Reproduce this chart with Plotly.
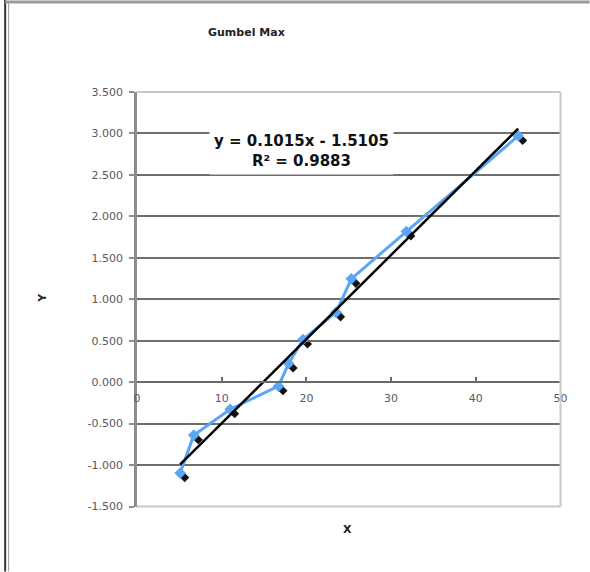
import plotly.graph_objects as go

# ---- data ----
x_vals = [5.1, 6.7, 11.0, 16.7, 17.9, 19.6, 23.5, 25.3, 31.8, 45.0]
y_vals = [-1.097, -0.640, -0.327, -0.049, 0.225, 0.514, 0.842, 1.246, 1.817, 2.970]
trend_slope = 0.1015
trend_intercept = -1.5105
trend_r2 = 0.9883
x_ticks = [0, 10, 20, 30, 40, 50]
y_ticks = [-1.5, -1.0, -0.5, 0.0, 0.5, 1.0, 1.5, 2.0, 2.5, 3.0, 3.5]
title_text = "Gumbel Max"
x_title = "X"
y_title = "Y"

# ---- layout geometry (pixels) ----
W, H = 590, 572
L, T = 137, 92
PW, PH = 424, 415
DX, DY = 4.5, 4.5          # marker shadow offset
tw, th = PW + DX, PH + DY
R = W - L - tw
B = H - T - th


def px(x):
    return (x - L) / tw


def py(y):
    return (T + th - y) / th


x_main_dom = [0, PW / tw]
x_sh_dom = [DX / tw, 1]
y_main_dom = [DY / th, 1]
y_sh_dom = [0, PH / th]
XR = [0, 50]
YR = [-1.5, 3.5]

FONT = "DejaVu Sans"
GRAY = "#595959"
BLUE = "#5aa6f2"

trend_x = [min(x_vals), max(x_vals)]
trend_y = [trend_slope * v + trend_intercept for v in trend_x]

fig = go.Figure()
# shadow markers (own hidden subplot, shifted down-right)
fig.add_trace(go.Scatter(x=x_vals, y=y_vals, mode="markers",
                         marker=dict(symbol="diamond", size=7, color="#111111"),
                         xaxis="x", yaxis="y", showlegend=False, hoverinfo="skip"))
# main series
fig.add_trace(go.Scatter(x=x_vals, y=y_vals, mode="lines+markers",
                         line=dict(color=BLUE, width=3),
                         marker=dict(symbol="diamond", size=9, color=BLUE),
                         xaxis="x2", yaxis="y2", showlegend=False))
# linear trendline
fig.add_trace(go.Scatter(x=trend_x, y=trend_y, mode="lines",
                         line=dict(color="#000000", width=2.5),
                         xaxis="x2", yaxis="y2", showlegend=False))

zero_pos = y_main_dom[0] + (0 - YR[0]) / (YR[1] - YR[0]) * (y_main_dom[1] - y_main_dom[0])

fig.update_layout(
    width=W, height=H,
    margin=dict(l=L, r=R, t=T, b=B, pad=0),
    paper_bgcolor="white", plot_bgcolor="rgba(0,0,0,0)",
    showlegend=False,
    font=dict(family=FONT, color=GRAY, size=11),
    xaxis=dict(domain=x_sh_dom, range=XR, visible=False, anchor="y"),
    yaxis=dict(domain=y_sh_dom, range=YR, visible=False, anchor="x"),
    xaxis2=dict(domain=x_main_dom, range=XR, anchor="free",
                position=zero_pos, tickvals=x_ticks, ticktext=[str(v) for v in x_ticks],
                showgrid=False, zeroline=False, showline=True,
                linecolor="#6a6a6a", linewidth=1.5,
                ticks="inside", ticklen=4, tickwidth=1.5, tickcolor="#6a6a6a",
                tickfont=dict(family=FONT, size=11, color=GRAY),
                ticklabelstandoff=6),
    yaxis2=dict(domain=y_main_dom, range=YR, anchor="x2",
                tickvals=y_ticks, ticktext=[f"{v:.3f}" for v in y_ticks],
                showgrid=True, gridcolor="#6e6e6e", gridwidth=1.5,
                zeroline=False, showline=True,
                linecolor="#8c8c8c", linewidth=2.5,
                ticks="outside", ticklen=5, tickwidth=1.5, tickcolor="#8c8c8c",
                tickfont=dict(family=FONT, size=11, color=GRAY),
                ticklabelstandoff=4),
)

# plot-area border (top, right, bottom) in light gray
bc = "#c8c8c8"
fig.add_shape(type="line", xref="paper", yref="paper", x0=px(L), x1=px(L + PW), y0=py(T), y1=py(T),
              line=dict(color=bc, width=2), layer="above")
fig.add_shape(type="line", xref="paper", yref="paper", x0=px(L + PW), x1=px(L + PW), y0=py(T), y1=py(T + PH),
              line=dict(color=bc, width=2), layer="above")
fig.add_shape(type="line", xref="paper", yref="paper", x0=px(L), x1=px(L + PW), y0=py(T + PH), y1=py(T + PH),
              line=dict(color=bc, width=2), layer="above")

# window frame decorations
fig.add_shape(type="line", xref="paper", yref="paper", x0=px(5), x1=px(5), y0=py(0), y1=py(H),
              line=dict(color="#333333", width=2), layer="above")
fig.add_shape(type="line", xref="paper", yref="paper", x0=px(8.5), x1=px(8.5), y0=py(3), y1=py(H),
              line=dict(color="#9a9a9a", width=1), layer="above")
fig.add_shape(type="line", xref="paper", yref="paper", x0=px(5), x1=px(W), y0=py(2), y1=py(2),
              line=dict(color="#9a9a9a", width=3), layer="above")

# title and axis titles
fig.add_annotation(text=f"<b>{title_text}</b>", xref="paper", yref="paper",
                   x=px(247), y=py(32), showarrow=False, xanchor="center", yanchor="middle",
                   font=dict(family=FONT, size=11, color="#222222"))
fig.add_annotation(text=f"<b>{x_title}</b>", xref="paper", yref="paper",
                   x=px(348), y=py(530), showarrow=False, xanchor="center", yanchor="middle",
                   font=dict(family=FONT, size=11, color="#222222"))
fig.add_annotation(text=f"<b>{y_title}</b>", xref="paper", yref="paper",
                   x=px(43), y=py(298), showarrow=False, xanchor="center", yanchor="middle",
                   textangle=-90, font=dict(family=FONT, size=11, color="#222222"))

# trendline equation label
fig.add_annotation(text=f"<b>y = {trend_slope}x - {abs(trend_intercept)}<br>R² = {trend_r2}</b>",
                   xref="paper", yref="paper", x=px(302), y=py(151),
                   showarrow=False, xanchor="center", yanchor="middle", align="center",
                   bgcolor="white", borderpad=4,
                   font=dict(family=FONT, size=15, color="#111111"))

fig.write_html("out.html", config={"displayModeBar": False},
               post_script="document.body.style.margin='0px';")
